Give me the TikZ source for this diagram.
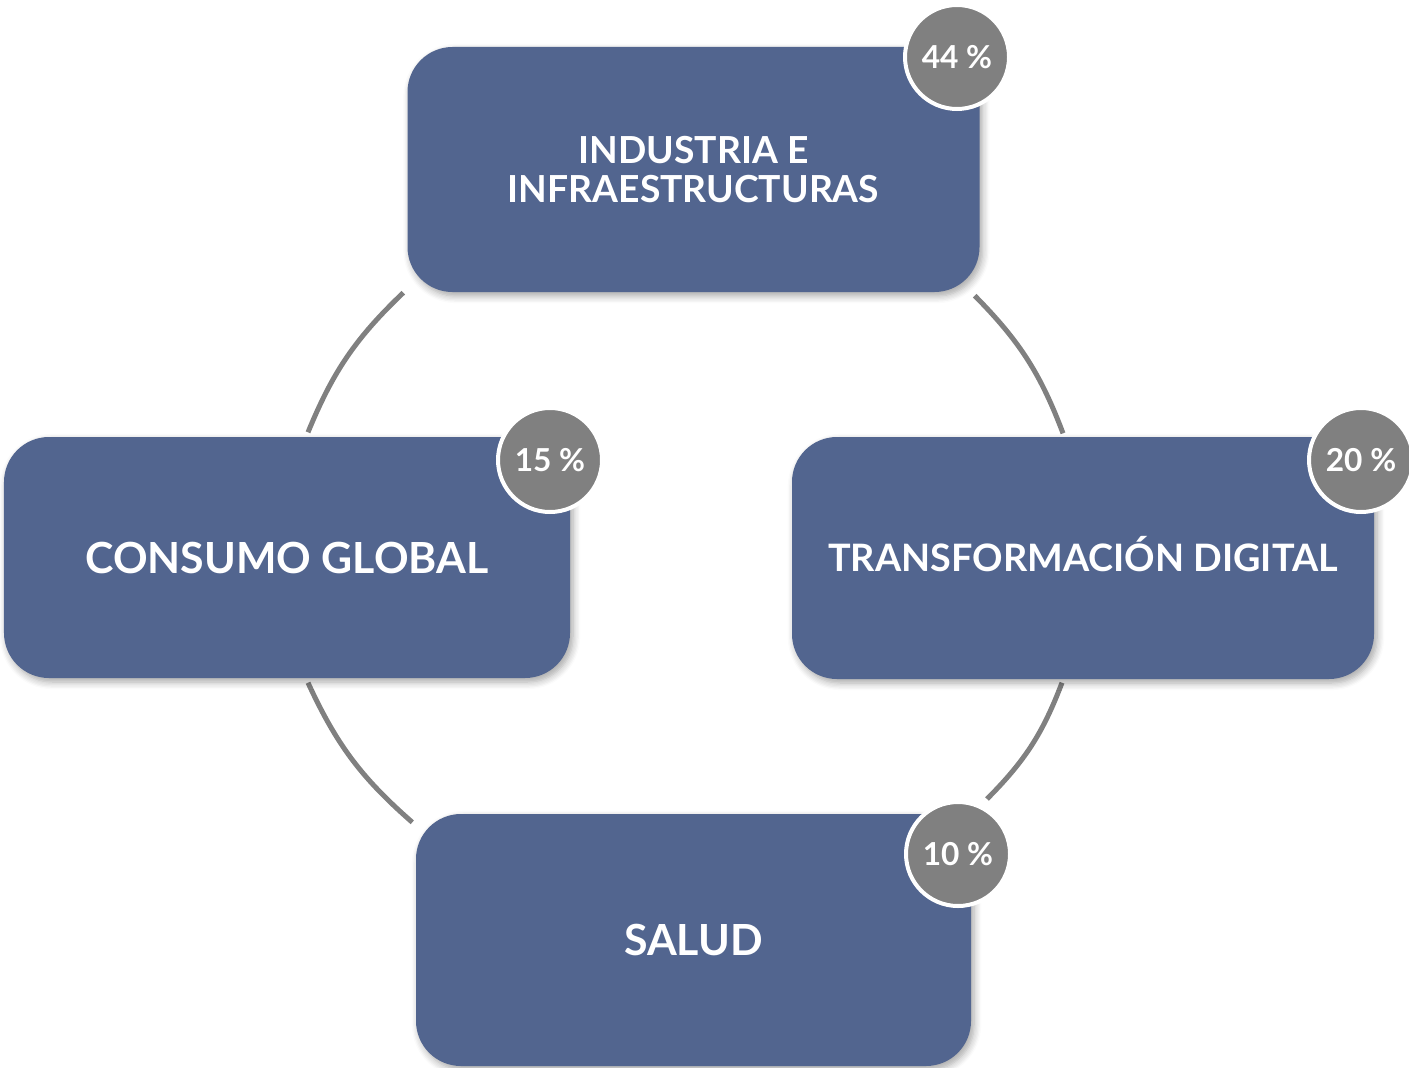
\documentclass[tikz,border=0pt]{standalone}
\usepackage{fontspec}
\setmainfont{Lato}
\usepackage{tikz}
\usetikzlibrary{shapes,
                backgrounds,
                shadows.blur,
                calc,
                positioning}
\definecolor{azulcaja}{RGB}{82,101,143}
\definecolor{grisarco}{RGB}{128,128,128}
\tikzstyle{area} = [rectangle, rounded corners=0.45cm, fill=azulcaja, text=white, align=center, font=\bfseries\fontsize{12.2}{12.2}\selectfont, blur shadow={shadow xshift=0.03cm, shadow yshift=-0.04cm, shadow blur steps=6, shadow opacity=35}]
\tikzstyle{pct} = [circle, minimum size=1.04cm, inner sep=0pt, fill=grisarco, draw=white, line width=0.04cm, text=white, font=\bfseries\fontsize{9}{9}\selectfont]
\tikzstyle{arco} = [draw=grisarco, line width=0.05cm]

\begin{document}
\begin{tikzpicture}[scale=1]
\useasboundingbox (0,0) rectangle (14.09,10.67);
\node[area, minimum width=5.72cm, minimum height=2.45cm, font=\bfseries\fontsize{10.6}{11.2}\selectfont] (ind) at (6.935,8.975) {INDUSTRIA E\\INFRAESTRUCTURAS};
\node[area, minimum width=5.66cm, minimum height=2.41cm] (con) at (2.87,5.095) {CONSUMO GLOBAL};
\node[area, minimum width=5.82cm, minimum height=2.42cm, font=\bfseries\fontsize{10.75}{10.75}\selectfont] (tra) at (10.83,5.09) {TRANSFORMACI\smash{Ó}N DIGITAL};
\node[area, minimum width=5.55cm, minimum height=2.52cm] (sal) at (6.935,1.27) {SALUD};
\node[pct] (p44) at (9.57,10.10) {44 \%};
\node[pct] (p15) at (5.50,6.07) {15 \%};
\node[pct] (p20) at (13.61,6.07) {20 \%};
\node[pct] (p10) at (9.58,2.13) {10 \%};
\begin{scope}[on background layer]
\draw[arco] ($(ind.south west)+(-0.035,0)$) to[bend right=12] ($(con.north)+(0.21,0.04)$);
\draw[arco] ($(ind.south east)+(-0.055,-0.03)$) to[bend left=12] ($(tra.north)+(-0.20,0.03)$);
\draw[arco] ($(tra.south)+(-0.21,-0.03)$) to[bend left=12] ($(p10)+(0.29,0.55)$);
\draw[arco] ($(con.south)+(0.21,-0.04)$) to[bend right=12] ($(sal.north west)+(-0.03,-0.09)$);
\end{scope}
\end{tikzpicture}
\end{document}
